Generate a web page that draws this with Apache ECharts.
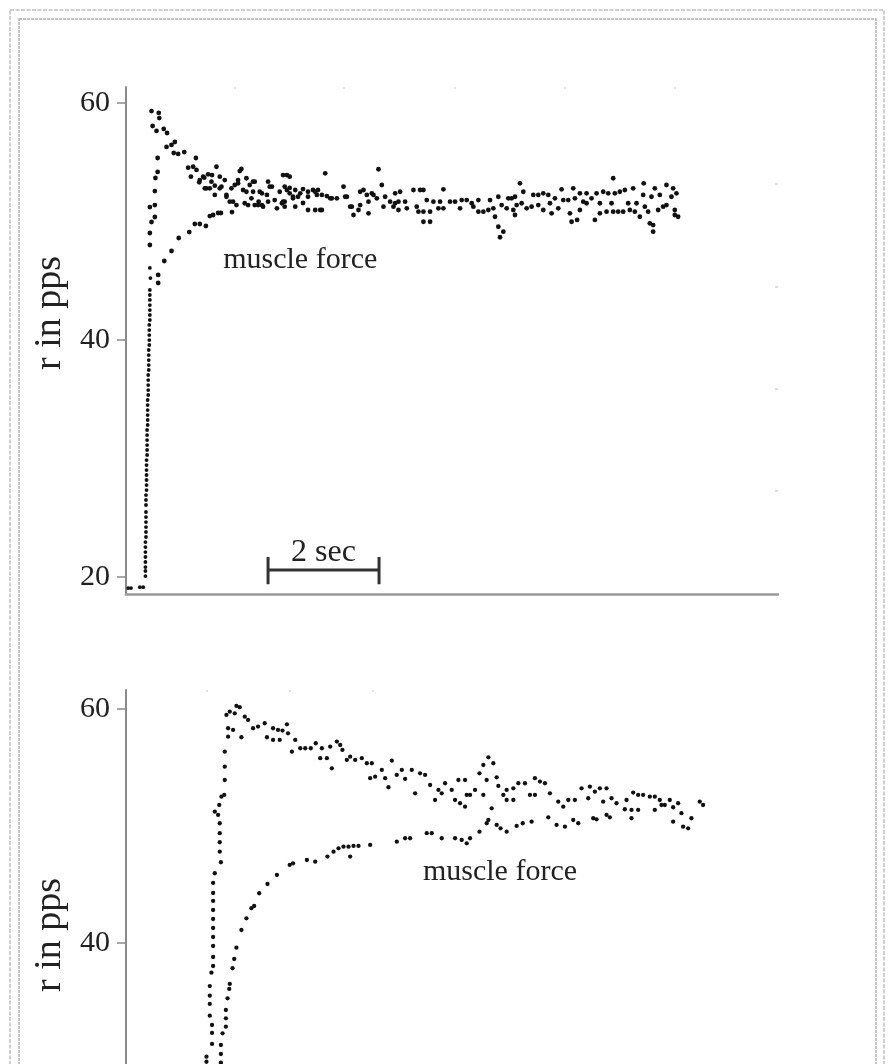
<!DOCTYPE html>
<html>
<head>
<meta charset="utf-8">
<script src="https://cdn.jsdelivr.net/npm/echarts@6/dist/echarts.min.js"></script>
<style>
  html, body { margin: 0; padding: 0; background: #fff; }
  #charts { width: 893px; height: 1064px; }
</style>
</head>
<body>
<div id="charts"></div>
<script>
// time in seconds, rate in pps
const yTicks = [20, 40, 60];
const axisTitle = "r in pps";
const forceLabel = "muscle force";
const scaleBarText = "2 sec";
const scaleBarStart = 2.56;
const scaleBarSec = 2;
const scaleBarLevel = 20.6;

// upper panel: onset of firing (steep rise)
const topRise = [
  [0.04, 19.07], [0.09, 19.07], [0.25, 19.15], [0.31, 19.15],
  [0.35, 20.08], [0.35, 20.51], [0.35, 20.84], [0.35, 21.27], [0.35, 21.69], [0.35, 22.11],
  [0.35, 22.53], [0.35, 22.95], [0.36, 23.38], [0.36, 23.8], [0.36, 24.22], [0.36, 24.64],
  [0.36, 25.06], [0.36, 25.49], [0.36, 26.08], [0.36, 26.5], [0.36, 26.92], [0.37, 27.34],
  [0.37, 27.76], [0.37, 28.19], [0.37, 28.61], [0.37, 29.03], [0.37, 29.45], [0.37, 29.87],
  [0.38, 30.3], [0.38, 30.72], [0.38, 31.14], [0.38, 31.56], [0.38, 31.98], [0.38, 32.41],
  [0.39, 32.83], [0.39, 33.25], [0.39, 33.67], [0.39, 34.09], [0.39, 34.51], [0.39, 34.94],
  [0.4, 35.36], [0.4, 35.78], [0.4, 36.2], [0.4, 36.62], [0.4, 37.05], [0.41, 37.47],
  [0.41, 37.89], [0.41, 38.31], [0.41, 38.73], [0.41, 39.16], [0.42, 39.58], [0.42, 40.0],
  [0.42, 40.42], [0.42, 40.84], [0.42, 41.27], [0.43, 41.69], [0.43, 42.11], [0.43, 42.53],
  [0.43, 42.95], [0.43, 43.38], [0.43, 43.8], [0.43, 44.22], [0.44, 45.23], [0.43, 46.08]
];

// upper panel: firing rate
const topRate = [
  [0.43, 48.02], [0.43, 49.03], [0.46, 49.96], [0.52, 50.38], [0.43, 51.22], [0.52, 51.39],
  [0.52, 52.57], [0.53, 53.67], [0.57, 54.18], [0.57, 55.36],
  [0.46, 59.32], [0.59, 59.16], [0.6, 58.73], [0.48, 58.06], [0.55, 57.64], [0.68, 57.81],
  [0.74, 57.47], [0.73, 56.29], [0.82, 56.46], [0.88, 56.71], [0.86, 55.78], [0.94, 55.7],
  [1.05, 55.86], [1.26, 55.36], [1.12, 54.54], [1.21, 54.62], [1.27, 54.35], [1.17, 53.78],
  [1.32, 53.31], [1.41, 53.7], [1.48, 53.98], [1.55, 53.92], [1.63, 54.62], [1.45, 52.8],
  [1.6, 53.02], [1.69, 53.78], [1.78, 53.5], [1.72, 52.94], [1.6, 52.24], [1.81, 52.24],
  [1.9, 52.8], [1.96, 53.08], [2.05, 54.26], [2.08, 54.43], [2.02, 53.22], [2.11, 52.66],
  [2.17, 53.65], [2.23, 53.08], [2.29, 52.51], [2.32, 53.36], [2.45, 52.38], [2.39, 51.67],
  [2.14, 51.54], [1.99, 51.39], [1.87, 51.67], [2.56, 53.36], [2.63, 52.94], [2.56, 51.67],
  [2.72, 51.11], [2.77, 52.51], [2.83, 53.92], [2.86, 51.67], [2.45, 51.39], [2.32, 51.39],
  [2.2, 51.39],
  [1.33, 53.5], [1.39, 53.78], [1.54, 53.36], [1.42, 52.8], [1.51, 52.8], [1.69, 52.8],
  [1.81, 52.09], [1.93, 51.67], [2.02, 53.5], [2.17, 52.51], [2.26, 51.96], [2.29, 53.36],
  [2.38, 51.39], [2.41, 52.51], [2.47, 51.25], [2.54, 52.24], [2.59, 52.94], [2.68, 51.81],
  [2.81, 51.54], [2.9, 52.66], [2.95, 52.38], [3.01, 51.96], [3.14, 52.38], [3.28, 52.51],
  [3.37, 52.66], [3.44, 52.24], [3.5, 50.97], [3.68, 51.96], [3.98, 52.09], [4.07, 51.25],
  [4.28, 52.66], [4.46, 52.24], [4.82, 51.25], [4.91, 51.67],
  [2.9, 53.92], [2.95, 53.78], [2.86, 52.94], [2.95, 52.83], [3.05, 52.66], [3.19, 52.74],
  [2.83, 51.67], [2.86, 51.25], [3.05, 51.25], [3.19, 51.56], [3.01, 52.09], [3.1, 52.09],
  [3.28, 52.09], [3.28, 50.97], [3.41, 52.51], [3.46, 52.66], [3.41, 50.97], [3.53, 50.97],
  [3.53, 52.24], [3.59, 54.07], [3.62, 52.15], [3.71, 51.96], [3.8, 51.96], [3.92, 52.94],
  [3.95, 52.09], [4.04, 51.25], [4.1, 50.55], [4.22, 51.39], [4.22, 52.51], [4.19, 50.97],
  [4.34, 52.24], [4.37, 51.67], [4.37, 50.69], [4.43, 52.38], [4.52, 51.96], [4.55, 54.41],
  [4.61, 53.08], [4.67, 52.09], [4.64, 51.25], [4.76, 51.67], [4.85, 52.38], [4.85, 51.54],
  [4.94, 52.51], [5.03, 51.67], [4.91, 50.97], [5.06, 51.11], [5.18, 52.66], [5.24, 51.25],
  [5.3, 52.66], [5.36, 52.66], [5.27, 50.83], [5.36, 49.98], [5.48, 49.98], [5.36, 50.83],
  [5.48, 50.83], [5.42, 51.81], [5.54, 51.67], [5.66, 51.67], [5.63, 51.11], [5.72, 52.72],
  [5.72, 51.11], [5.84, 51.67], [5.93, 51.67], [6.02, 51.11], [6.05, 51.81], [6.14, 51.81],
  [6.23, 51.54], [6.35, 51.81], [6.26, 51.25], [6.35, 50.83], [6.44, 50.83], [6.53, 50.97],
  [6.56, 51.81], [6.62, 51.11],
  [6.71, 52.09], [6.65, 50.4], [6.71, 49.56], [6.8, 49.14], [6.74, 48.67], [6.77, 51.39],
  [6.86, 51.11], [6.89, 51.96], [6.95, 51.96], [7.01, 52.09], [6.98, 50.97], [7.04, 51.39],
  [7.01, 50.55], [7.1, 53.22], [7.16, 52.51], [7.13, 51.54], [7.22, 51.11], [7.31, 51.25],
  [7.34, 52.24], [7.43, 52.24], [7.43, 51.39], [7.52, 52.38], [7.52, 50.97], [7.61, 52.24],
  [7.64, 51.54], [7.67, 50.69], [7.73, 51.96], [7.79, 51.11], [7.85, 52.72], [7.88, 51.81],
  [7.97, 51.81], [8.0, 50.69], [8.03, 49.98], [8.06, 52.8], [8.09, 51.96], [8.13, 50.13],
  [8.18, 52.38], [8.18, 50.97], [8.24, 51.67], [8.3, 52.38], [8.3, 51.54], [8.39, 51.96],
  [8.45, 50.13], [8.48, 52.38], [8.54, 50.69], [8.54, 51.54], [8.6, 52.51], [8.66, 50.83],
  [8.69, 52.38], [8.75, 51.54], [8.78, 53.65], [8.81, 52.38], [8.78, 50.83], [8.87, 50.83],
  [8.9, 52.51], [8.96, 50.83], [8.99, 52.66], [9.05, 51.54], [9.08, 50.97], [9.14, 52.8],
  [9.17, 50.83], [9.2, 51.54], [9.26, 50.4], [9.32, 52.24], [9.33, 53.22], [9.35, 51.25],
  [9.41, 50.83], [9.44, 49.85], [9.5, 49.7], [9.5, 49.14], [9.47, 52.09], [9.53, 52.8],
  [9.59, 50.97], [9.62, 52.24], [9.68, 51.25], [9.74, 53.08], [9.74, 51.39], [9.83, 52.09],
  [9.86, 52.8], [9.89, 50.97], [9.92, 52.38], [9.89, 50.55], [9.95, 50.4]
];

// upper panel: muscle force
const topForce = [
  [0.58, 44.81], [0.58, 45.49], [0.69, 46.67], [0.82, 47.51], [0.95, 48.61], [1.14, 49.11],
  [1.24, 49.79], [1.33, 49.79], [1.44, 49.62], [1.51, 50.46], [1.57, 50.55], [1.66, 50.72],
  [1.71, 50.72], [1.91, 50.8]
];

// lower panel: firing rate
const bottomRate = [
  [1.45, 29.85], [1.45, 30.28], [1.55, 31.37], [1.55, 32.31], [1.55, 32.99], [1.51, 33.79],
  [1.51, 34.79], [1.51, 35.5], [1.51, 36.32], [1.54, 37.46], [1.57, 38.03], [1.57, 38.8],
  [1.57, 39.74], [1.57, 40.51], [1.57, 41.28], [1.57, 42.05], [1.57, 42.82], [1.57, 43.59],
  [1.57, 44.27], [1.57, 45.13], [1.6, 45.96], [1.71, 46.9], [1.69, 47.8], [1.69, 48.61],
  [1.69, 49.38], [1.69, 50.23], [1.66, 50.94], [1.6, 51.22], [1.68, 51.79], [1.72, 52.5],
  [1.77, 52.65], [1.78, 53.93], [1.78, 55.07], [1.78, 56.35],
  [1.84, 57.63], [1.84, 58.35], [1.93, 58.21], [2.08, 57.58], [1.81, 59.49], [1.87, 59.77],
  [1.96, 59.63], [1.99, 60.26], [2.05, 60.15],
  [2.14, 59.34], [2.2, 59.06], [2.29, 58.35], [2.38, 58.49], [2.5, 58.78], [2.54, 57.58],
  [2.65, 58.35], [2.65, 57.35], [2.74, 58.21], [2.77, 57.35], [2.82, 58.15], [2.9, 58.69],
  [2.92, 57.92], [2.99, 56.35], [3.05, 57.35], [3.14, 56.64], [3.23, 56.64], [3.33, 56.64],
  [3.42, 57.07], [3.53, 56.64], [3.5, 55.79], [3.62, 55.79], [3.68, 56.78], [3.71, 54.93],
  [3.8, 57.21], [3.86, 56.92], [3.9, 56.5], [3.98, 55.64], [4.04, 55.92], [4.13, 55.64],
  [4.25, 55.79], [4.34, 55.36], [4.43, 55.36], [4.4, 54.08], [4.49, 54.21], [4.61, 54.79],
  [4.67, 54.08], [4.73, 53.31], [4.79, 55.58], [4.88, 54.36],
  [4.97, 54.79], [5.03, 54.02], [5.15, 54.79], [5.21, 52.79], [5.3, 54.5], [5.39, 54.36],
  [5.48, 53.5], [5.57, 52.22], [5.63, 53.08], [5.69, 52.79], [5.75, 53.65], [5.87, 53.08],
  [5.93, 52.22], [5.99, 53.93], [6.02, 51.94], [6.11, 53.93], [6.11, 51.65], [6.14, 52.65],
  [6.2, 52.65], [6.29, 53.08], [6.37, 54.5], [6.44, 52.65], [6.44, 55.21], [6.53, 55.87],
  [6.62, 55.36], [6.5, 53.93], [6.68, 54.16], [6.71, 53.42], [6.59, 51.51], [6.8, 52.65],
  [6.86, 53.08], [6.86, 52.22], [6.98, 53.22], [6.98, 52.22], [7.07, 53.65], [7.19, 53.65],
  [7.28, 52.65], [7.37, 54.08], [7.37, 52.65], [7.46, 53.79], [7.55, 53.65], [7.64, 52.79],
  [7.79, 52.08], [7.88, 51.65], [7.97, 52.22], [8.09, 52.22], [8.21, 53.22], [8.33, 52.37],
  [8.36, 53.36], [8.45, 52.93], [8.54, 53.22], [8.66, 53.22], [8.6, 52.08], [8.75, 52.37],
  [8.84, 51.94], [9.02, 52.22], [8.99, 51.43], [9.14, 52.85], [9.23, 52.65], [9.32, 52.65],
  [9.44, 52.5], [9.53, 52.5], [9.62, 52.22], [9.71, 51.79], [9.8, 52.22], [9.86, 51.6],
  [9.95, 51.94], [10.01, 51.09], [10.19, 50.66], [10.34, 52.08], [10.4, 51.79], [9.23, 51.37],
  [9.11, 51.37], [9.53, 51.37], [9.65, 51.79]
];

// lower panel: muscle force
const bottomForce = [
  [1.71, 29.77], [1.71, 30.51], [1.71, 31.28], [1.74, 32.28], [1.8, 32.85], [1.8, 33.56],
  [1.8, 34.27], [1.83, 35.27], [1.86, 36.07], [1.87, 36.5], [1.92, 37.84], [1.95, 38.63],
  [1.99, 39.6], [2.08, 41.11], [2.17, 42.11], [2.26, 42.97], [2.31, 43.16], [2.4, 44.25],
  [2.55, 45.04], [2.72, 45.81], [2.95, 46.67], [3.01, 46.81], [3.26, 47.09], [3.41, 46.95],
  [3.63, 47.38], [3.74, 47.8], [3.83, 48.09], [3.92, 48.23], [4.01, 48.23], [4.04, 47.38],
  [4.1, 48.29], [4.19, 48.29], [4.4, 48.38], [4.88, 48.66], [5.03, 48.95], [5.12, 48.95],
  [5.42, 49.38], [5.51, 49.38], [5.69, 48.95], [5.93, 48.95], [6.05, 48.8], [6.14, 48.52],
  [6.2, 48.95], [6.37, 49.51], [6.5, 50.23], [6.53, 50.51], [6.68, 50.09], [6.75, 49.8],
  [6.86, 49.51], [7.04, 50.0], [7.15, 50.23], [7.31, 50.37], [7.61, 50.74], [7.76, 50.09],
  [7.91, 49.94], [8.06, 50.51], [8.15, 50.23], [8.42, 50.66], [8.48, 50.57], [8.66, 50.94],
  [8.72, 50.74], [9.11, 50.66], [9.86, 50.37], [10.04, 49.94], [10.13, 49.8]
];

// faint leftover ticks of the scanned figure
const topFrameTicksX = [1.96, 3.93, 5.93, 7.91, 9.89];
const topFrameTicksY = [53.2, 44.5, 35.9, 27.3];
const bottomFrameTicksX = [1.46, 2.95, 4.45];

const labelFont = "Liberation Serif";
const ink = "#111";
const textInk = "#222";
const axisGray = "#8a8a8a";

let mycharts = echarts.init(document.getElementById("charts"));

function dots(name, data, idx, size) {
  return {
    name: name,
    type: "scatter",
    xAxisIndex: idx,
    yAxisIndex: idx * 3,
    data: data,
    symbol: "circle",
    symbolSize: size || 4.8,
    itemStyle: { color: ink, opacity: 1 },
    silent: true,
    z: 3,
  };
}

function textMark(text, point, idx, size) {
  return {
    type: "scatter",
    xAxisIndex: idx,
    yAxisIndex: idx * 3,
    data: [point],
    symbolSize: 0,
    silent: true,
    itemStyle: { opacity: 1 },
    label: {
      show: true,
      position: "inside",
      formatter: text,
      color: textInk,
      fontFamily: labelFont,
      fontSize: size,
    },
  };
}

function yAxes(gridIdx, min, max, frameTicks) {
  const base = {
    type: "value",
    gridIndex: gridIdx,
    min: min,
    max: max,
    splitLine: { show: false },
  };
  return [
    // outer half of the tick marks + labels
    Object.assign({}, base, {
      axisLine: { show: true, lineStyle: { color: axisGray, width: 2 } },
      axisTick: {
        show: true,
        customValues: yTicks,
        length: 9,
        lineStyle: { color: axisGray, width: 1.5 },
      },
      axisLabel: {
        show: true,
        customValues: yTicks,
        margin: 16,
        color: textInk,
        fontFamily: labelFont,
        fontSize: 30,
      },
    }),
    // inner half of the tick marks
    Object.assign({}, base, {
      axisLine: { show: false },
      axisTick: {
        show: true,
        inside: true,
        customValues: yTicks,
        length: 9,
        lineStyle: { color: axisGray, width: 1.5 },
      },
      axisLabel: { show: false },
    }),
    // faint ticks on the right edge
    Object.assign({}, base, {
      position: "right",
      axisLine: { show: false },
      axisTick: {
        show: frameTicks.length > 0,
        inside: true,
        customValues: frameTicks.length ? frameTicks : [0],
        length: 3,
        lineStyle: { color: "#d4d4d4", width: 1.5 },
      },
      axisLabel: { show: false },
    }),
  ];
}

function xAxis(gridIdx, position, showLine, ticks) {
  return {
    type: "value",
    gridIndex: gridIdx,
    position: position,
    min: 0,
    max: 11.75,
    splitLine: { show: false },
    axisLine: { show: showLine, lineStyle: { color: "#9a9a9a", width: 2.5 } },
    axisTick: {
      show: ticks.length > 0,
      inside: true,
      customValues: ticks.length ? ticks : [0],
      length: 2,
      lineStyle: { color: "#d8d8d8", width: 1.5 },
    },
    axisLabel: { show: false },
  };
}

function yTitle(y) {
  return {
    type: "text",
    x: 50,
    y: y,
    rotation: Math.PI / 2,
    silent: true,
    style: {
      text: axisTitle,
      fill: textInk,
      font: "38px 'Liberation Serif'",
      align: "center",
      verticalAlign: "middle",
    },
  };
}

const scaleBarEnd = scaleBarStart + scaleBarSec;

mycharts.setOption({
  animation: false,
  backgroundColor: "#fff",
  grid: [
    { left: 126, top: 87, width: 652, height: 507, outerBoundsMode: "none" },
    { left: 126, top: 690, width: 652, height: 507, outerBoundsMode: "none" },
  ],
  xAxis: [
    xAxis(0, "bottom", true, []),
    xAxis(1, "bottom", true, []),
    xAxis(0, "top", false, topFrameTicksX),
    xAxis(1, "top", false, bottomFrameTicksX),
  ],
  yAxis: [].concat(
    yAxes(0, 18.57, 61.35, topFrameTicksY),
    yAxes(1, 18.29, 61.62, [])
  ),
  series: [
    dots("rate", topRise, 0, 3.8),
    dots("rate", topRate, 0),
    dots("muscle force", topForce, 0),
    dots("rate", bottomRate, 1, 4.3),
    dots("muscle force", bottomForce, 1, 4.3),
    textMark(forceLabel, [3.14, 46.75], 0, 30),
    textMark(forceLabel, [6.74, 46.07], 1, 30),
    // 2 sec scale bar
    {
      type: "line",
      xAxisIndex: 0,
      yAxisIndex: 0,
      data: [
        [scaleBarStart, scaleBarLevel + 1.1],
        [scaleBarStart, scaleBarLevel - 1.2],
        null,
        [scaleBarStart, scaleBarLevel],
        [scaleBarEnd, scaleBarLevel],
        null,
        [scaleBarEnd, scaleBarLevel + 1.1],
        [scaleBarEnd, scaleBarLevel - 1.2],
      ],
      connectNulls: false,
      symbol: "none",
      silent: true,
      lineStyle: { color: "#333", width: 3 },
    },
    textMark(scaleBarText, [(scaleBarStart + scaleBarEnd) / 2, scaleBarLevel + 1.45], 0, 32),
  ],
  graphic: [
    yTitle(313),
    yTitle(935),
    {
      type: "rect",
      shape: { x: 10, y: 10, width: 874, height: 1100 },
      style: { fill: null, stroke: "#cfcfcf", lineWidth: 2, lineDash: [4, 1.5] },
      silent: true,
    },
    {
      type: "rect",
      shape: { x: 19, y: 19, width: 857, height: 1100 },
      style: { fill: null, stroke: "#b0b0b0", lineWidth: 1.5, lineDash: [3, 1] },
      silent: true,
    },
  ],
});
</script>
</body>
</html>
